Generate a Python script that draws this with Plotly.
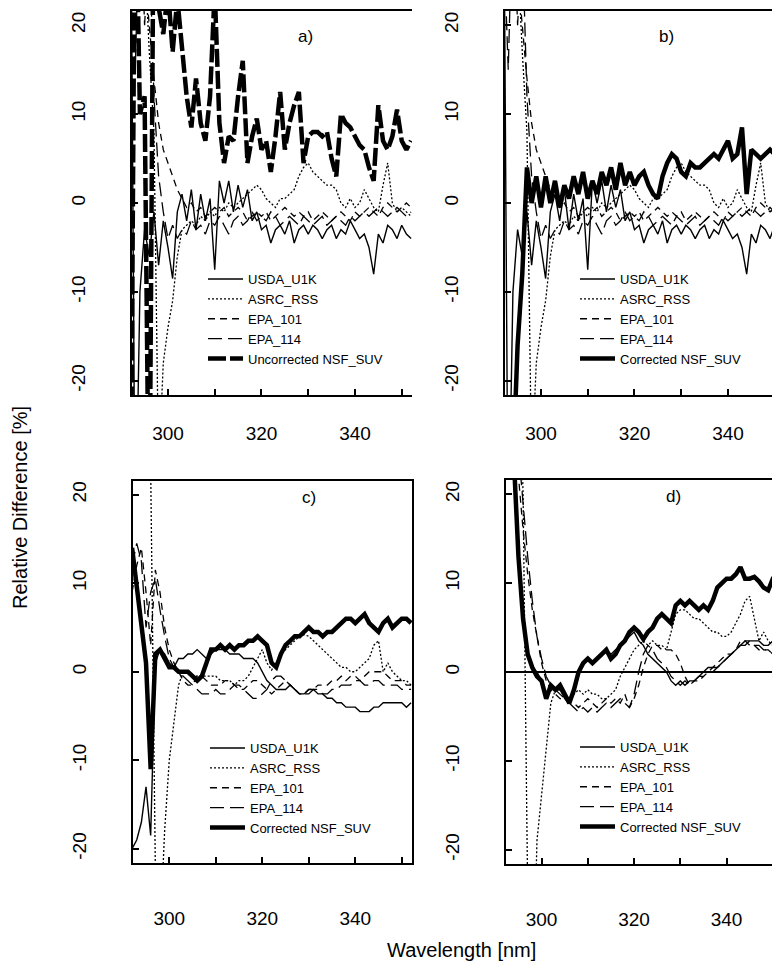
import plotly.graph_objects as go

# wavelength grid [nm]
wavelength = list(range(292, 353))

# panels a) and b): reference instruments (identical in both panels)
usda_ab = [40, -40, -10, -3, -6, -1, -7, -2, -5, -8.5,
           -1, 1, -2, 1.5, -3, 1, -2, 0.5, -7.5, 2.5,
           0, 2.5, -1, 2, -0.5, 1.5, -2, -1, -3, -2.5,
           -4.5, -3, -2.5, -3.5, -2, -4.5, -3, -2.5, -3.5, -2.5,
           -3, -4, -3, -2.5, -4, -3, -3.5, -2, -3, -4,
           -3.5, -5, -8, -3.5, -4.5, -2.5, -3, -4, -2.5, -3.5,
           -4]
asrc_ab = [50, 50, 50, 28, 17, 8, -30, -18, -14, -11,
           -6, -3, -2.5, -2, -2.5, -1.5, -2, -1, -1.5, -0.5,
           -1, 0, -0.5, 0, 0.5, 1, 1.5, 2, 1.5, 0.5,
           0, -0.5, 0.5, 0.5, 1, 1.5, 3, 4, 4.5, 3.5,
           3, 2.5, 2, 2, 1.5, 0, -0.5, 0.5, -0.5, 0,
           1.5, 0.5, -0.5, -1, 2, 4.5, 0, -1, -0.5, -1,
           -1.5]
epa101_ab = [40, 35, 30, 26, 20, 14, 9, 6, 4.5, 3,
             1.5, 0.5, -0.5, 0, -1, -0.5, -1.5, -1, -0.5, -1,
             -0.5, -1.5, -1, -0.5, -1, -2, -1.5, -1, -1.5, -1,
             -2, -1.5, -1, -0.5, -1, -1.5, -1, -1.5, -1, -2,
             -1.5, -1, -1.5, -2, -1.5, -1, -1.5, -2, -1, -1.5,
             -1, -0.5, -1, -1.5, -0.5, 0, -0.5, -1, -0.5, 0,
             -0.5]
epa114_ab = [30, 15, 35, 20, 30, 12, 3, -1, -4, -2.5,
             -4, -3, -3.5, -2, -3, -2.5, -3.5, -2, -2.5, -1.5,
             -2.5, -3.5, -2, -1.5, -2.5, -2, -1, -2, -1.5, -2,
             -1, -1.5, -2.5, -2, -1.5, -2, -2.5, -1.5, -2, -2.5,
             -2, -1.5, -2.5, -2, -1.5, -2, -2.5, -1.5, -2, -1.5,
             -1, -1.5, -1, -0.5, -1, -1.5, -1, -0.5, -1, -1.5,
             -1]
nsf_uncorr_a = [-40, 40, 10, 12, -40, 40, 22, 19, 24, 17,
                23, 18, 12, 8.5, 14, 9, 7, 12, 24, 9,
                4.5, 7.5, 7, 12, 16, 4.5, 7.5, 9.5, 6, 7,
                3.5, 7.5, 12.5, 6, 9, 11, 12.5, 4.5, 7.5, 8,
                8, 7.5, 8, 5, 3, 10, 9, 8.5, 7.5, 6.5,
                6, 4, 2.5, 11, 7, 6, 7.5, 10.5, 7, 6,
                7]
nsf_corr_b = [-50, -50, -30, -16, -8, 4, 0, 3, -0.5, 3,
              0, 2.5, -0.5, 2, 0.5, 3, 1, 3.5, 0.5, 2.5,
              1, 3.5, 2, 4, 1.5, 4.5, 2, 3.5, 2, 3,
              3.5, 2, 1, 0.5, 3, 4.5, 5.5, 5, 3.5, 3,
              4.5, 4, 4, 4.5, 5, 5.5, 5, 6, 7, 5,
              5.5, 8.5, 1, 6, 5.5, 5, 5.5, 6, 5.5, 6.5,
              6]

# panel c)
usda_c = [-20, -19, -17, -13, -18.5, 1, 2.5, 2, 1, 0.5,
          1.5, 1.5, 2, 2, 2.5, 2, 1.5, 2, 2.5, 2.5,
          2.5, 2, 2, 2, 1.5, 1.5, 1.5, 1, 0, -1,
          -1.5, -2, -2, -2, -1.5, -2, -2.5, -2.5, -2, -2,
          -2.5, -2.5, -3, -3, -3.5, -3.5, -4, -4, -4, -4.5,
          -4.5, -4.5, -4, -4, -3.5, -3.5, -3.5, -3.5, -3.5, -4,
          -3.5]
asrc_c = [50, 50, 50, 50, 23, -22, -30, -18, -10, -6,
          -1.5, 0, 0, -0.5, -0.5, -0.5, -0.5, -0.5, -0.5, -1,
          -1, -1, -1.5, -1, -1, -0.5, 0.5, 1.5, 2.5, 1,
          0.2, 1, 2, 2.5, 3, 3.5, 4, 4.2, 4, 3.5,
          3, 2.5, 2, 1.5, 1, 0.5, 0.5, 0, 0, 0.5,
          1, 1.5, 3, 3.5, 0, 1, 0, -0.5, -1, -1,
          -1.5]
epa101_c = [9, 12, 14, 9, 3, 11.5, 9, 5, 2.5, 1,
            0, -1, -1.5, -1.5, -0.5, -0.5, -1, -1.5, -1.5, -1.5,
            -1, -1, -1.5, -2, -2, -1.5, -1, -1, -1.5, -2,
            -2.5, -2, -1.5, -1, -1.5, -2, -2.5, -2.5, -2, -2,
            -1.5, -1.5, -1.5, -1, -1, -0.5, -1, -0.5, -0.5, -1,
            -0.5, 0, 0, 0, 0, -0.5, -1, -1, -1, -1.5,
            -1.5]
epa114_c = [12, 14.5, 12.5, 5, 9, 10.5, 7, 4, 1.5, 0.5,
            0, -0.5, -1, -1.5, -2, -2.5, -2.5, -2.5, -2, -2.5,
            -2.5, -2, -1.5, -1.5, -2, -2.5, -3, -3, -2.5, -2,
            -1, -0.5, -0.5, -1, -1.5, -2, -2.5, -2.5, -2.5, -2,
            -2, -2.5, -2.5, -2, -2, -1.5, -1.5, -1.5, -1, -1,
            -1.5, -1.5, -1, -1, -1.5, -1.5, -1.5, -1.5, -2, -2,
            -2]
nsf_c = [14, 9.5, 5, 1, -11, 2, 2.5, 1.5, 0.5, 0.5,
         0, 0, 0, -0.5, -1, -0.5, 1, 2.5, 2.5, 3,
         2.5, 3, 2.5, 3, 3, 3.5, 3.5, 4, 3.5, 3,
         1, 0.5, 2, 3, 3.5, 4, 4, 4.5, 5, 4.5,
         4.5, 4, 4.5, 4.5, 5, 5.5, 6, 6, 5.5, 6,
         6.5, 5.5, 5, 4.5, 5.5, 6, 5, 5.5, 6, 6,
         5.5]

# panel d)
usda_d = [40, 30, 23, 14, 7, 2, 0.5, 0, -1, -2.5,
          -1.5, -2, -2, -3, -3.5, -2, 0, 1, 1.5, 1,
          1.5, 2, 2.5, 2, 2.5, 3, 3.5, 4, 4.5, 3.5,
          3, 2, 1.5, 1, 0.5, 0, -1, -1.5, -1, -1.5,
          -1, -1, -0.5, 0, 0.5, 0.5, 0.5, 1, 1.5, 2,
          2.5, 3, 3.5, 3.5, 3.5, 3.5, 3, 3, 3.5, 3.5,
          3.5]
asrc_d = [50, 50, 50, 40, 20, -25, -40, -19, -14, -9,
          -3.5, -2, -2, -2.5, -3, -2.5, -2, -2.5, -2, -2.5,
          -2.5, -3, -3, -2.5, -2, -0.5, 0.5, 1.5, 2.5, 3,
          3.5, 3, 3.5, 3, 3, 2.5, 4.5, 6.5, 7, 7,
          6.5, 6, 6, 5.5, 5, 4.5, 4.5, 4, 4, 4.5,
          5.5, 6.5, 8, 8.5, 6, 3.5, 4.5, 3.5, 3, 3.5,
          3]
epa101_d = [40, 35, 30, 22, 16, 11, 7, 4, 1, -1,
            -2, -2.5, -3, -3, -3.5, -3.5, -4, -3.5, -3, -3.5,
            -4, -3.5, -3, -3.5, -3, -3.5, -2.5, -4, -3, -1.5,
            0.5, 2, 3, 3, 2.5, 2.5, 2.5, 2, 1, -0.5,
            -1.5, -1, -1, -0.5, 0, 0.5, 1, 1.5, 2, 2,
            2.5, 3.5, 3.5, 3, 3, 2.5, 2.5, 2.5, 2, 2,
            2.5]
epa114_d = [45, 40, 33, 25, 19, 13, 8, 4, 1.5, -0.5,
            -1.5, -2, -2.5, -3, -3.5, -4, -4.5, -4, -4.5, -4,
            -4.5, -4, -3.5, -4, -3.5, -3, -3.5, -4, -2.5, 0,
            2, 3, 2.5, 1.5, 1, 0.5, -0.5, -1, -1.5, -1,
            -1.5, -1, -0.5, -0.5, 0, 0, 0.5, 1, 1.5, 2,
            2.5, 3, 3, 3.5, 3, 3, 2.5, 2.5, 2, 2.5,
            2]
nsf_d = [40, 30, 24, 13, 6, 2, 0.5, -0.5, -1, -3,
         -1.5, -2, -1.5, -2.5, -3.5, -2, 0, 1, 1.5, 1,
         1.5, 2, 2.5, 1.5, 2, 3, 3.5, 4.5, 5, 4.5,
         3.7, 4.5, 5, 6, 6.5, 6, 5.5, 7.5, 8, 7.5,
         8, 7.5, 7, 7.5, 7, 8, 9.5, 10, 10.5, 10.5,
         11, 11.8, 10.5, 10.5, 10.7, 10.2, 9.5, 9.2, 10.5, 10.5,
         10]

# axis ticks
x_ticks = [300, 310, 320, 330, 340, 350]
x_labels = ["300", "", "320", "", "340", ""]
y_ticks = [-20, -10, 0, 10, 20]
y_labels = ["-20", "-10", "0", "10", "20"]

W, H = 780, 976
FONT = "Liberation Sans, Arial, sans-serif"

# line styles (all black, as in the print)
styles = {
    "USDA_U1K": dict(width=1.4, dash="solid"),
    "ASRC_RSS": dict(width=1.3, dash="2px,2px"),
    "EPA_101": dict(width=1.3, dash="7px,5px"),
    "EPA_114": dict(width=1.3, dash="14px,6px"),
    "Uncorrected NSF_SUV": dict(width=4.5, dash="18px,4px"),
    "Corrected NSF_SUV": dict(width=4.5, dash="solid"),
}

# panel boxes in pixels: (left, right), (top, bottom)
panels = [
    dict(tag="a)", xs=(123.5, 404), ys=(3, 387), label=(297, 17), leg=(195, 256),
         xstand=20,
         series=[("USDA_U1K", usda_ab), ("ASRC_RSS", asrc_ab), ("EPA_101", epa101_ab),
                 ("EPA_114", epa114_ab), ("Uncorrected NSF_SUV", nsf_uncorr_a)],
         right_line=False),
    dict(tag="b)", xs=(496.5, 777), ys=(3, 387), label=(668, 17), leg=(567, 256),
         xstand=20,
         series=[("USDA_U1K", usda_ab), ("ASRC_RSS", asrc_ab), ("EPA_101", epa101_ab),
                 ("EPA_114", epa114_ab), ("Corrected NSF_SUV", nsf_corr_b)],
         right_line=True),
    dict(tag="c)", xs=(125, 404), ys=(472.5, 855), label=(301, 489), leg=(197, 725),
         xstand=37,
         series=[("USDA_U1K", usda_c), ("ASRC_RSS", asrc_c), ("EPA_101", epa101_c),
                 ("EPA_114", epa114_c), ("Corrected NSF_SUV", nsf_c)],
         right_line=True),
    dict(tag="d)", xs=(497.5, 775), ys=(472, 856), label=(675, 488), leg=(567, 724),
         xstand=37,
         series=[("USDA_U1K", usda_d), ("ASRC_RSS", asrc_d), ("EPA_101", epa101_d),
                 ("EPA_114", epa114_d), ("Corrected NSF_SUV", nsf_d)],
         right_line=True),
]

fig = go.Figure()
layout = dict(width=W, height=H, margin=dict(l=0, r=0, t=0, b=0),
              paper_bgcolor="white", plot_bgcolor="white",
              font=dict(family=FONT, color="black"), annotations=[], shapes=[])

for i, p in enumerate(panels, start=1):
    sfx = "" if i == 1 else str(i)
    leg = "legend" if i == 1 else "legend%d" % i
    for name, vals in p["series"]:
        fig.add_trace(go.Scatter(
            x=wavelength, y=vals, mode="lines", name=name,
            line=dict(color="black", **styles[name]),
            xaxis="x" + sfx, yaxis="y" + sfx, legend=leg, hoverinfo="skip"))

    layout["xaxis" + sfx] = dict(
        domain=[p["xs"][0] / W, p["xs"][1] / W], anchor="y" + sfx,
        range=[292.2, 352.2], showgrid=False, zeroline=False,
        showline=True, linecolor="black", linewidth=2, mirror=True,
        ticks="inside", ticklen=6, tickwidth=1.5, tickcolor="black",
        tickvals=x_ticks, ticktext=x_labels,
        tickfont=dict(size=19, family=FONT), ticklabelstandoff=p["xstand"])
    layout["yaxis" + sfx] = dict(
        domain=[1 - p["ys"][1] / H, 1 - p["ys"][0] / H], anchor="x" + sfx,
        range=[-21.6, 21.6], showgrid=False, zeroline=False,
        showline=True, linecolor="black", linewidth=2, mirror=p["right_line"],
        ticks="inside", ticklen=6, tickwidth=1.5, tickcolor="black",
        tickvals=y_ticks, ticktext=y_labels, tickangle=-90,
        tickfont=dict(size=19, family=FONT), ticklabelstandoff=37)
    layout[leg] = dict(
        x=p["leg"][0] / W, y=1 - p["leg"][1] / H, xanchor="left", yanchor="top",
        bgcolor="rgba(0,0,0,0)", borderwidth=0, tracegroupgap=0,
        font=dict(size=13, family=FONT), itemwidth=35)
    layout["annotations"].append(dict(
        text=p["tag"], x=p["label"][0] / W, y=1 - p["label"][1] / H,
        xref="paper", yref="paper", showarrow=False,
        font=dict(size=17, family=FONT)))

# zero line in panel d)
layout["shapes"].append(dict(type="line", xref="x4 domain", yref="y4",
                             x0=0, x1=1, y0=0, y1=0,
                             line=dict(color="black", width=2)))

# shared axis titles
layout["annotations"].append(dict(
    text="Relative Difference [%]", x=0, y=1 - 500 / H, xref="paper", yref="paper",
    xanchor="left", yanchor="middle", borderpad=0,
    showarrow=False, textangle=-90, font=dict(size=20, family=FONT)))
layout["annotations"].append(dict(
    text="Wavelength [nm]", x=453 / W, y=1 - 955 / H, xref="paper", yref="paper",
    showarrow=False, font=dict(size=20, family=FONT)))

fig.update_layout(**layout)
fig.write_html("out.html")
